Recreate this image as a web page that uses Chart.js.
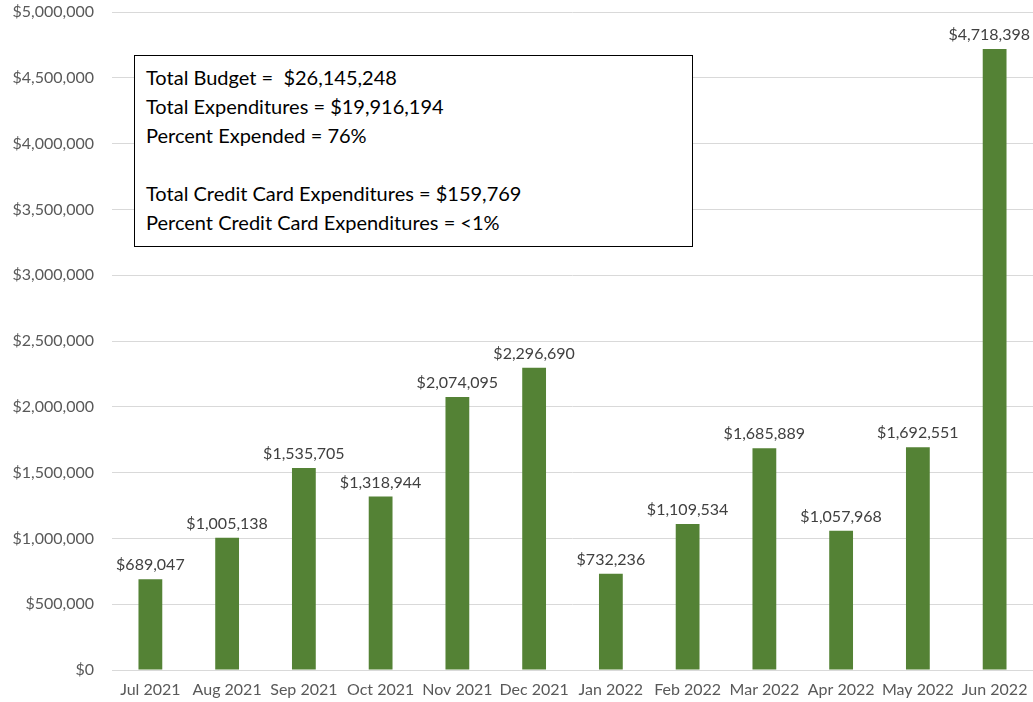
<!DOCTYPE html>
<html>
<head>
<meta charset="utf-8">
<script src="https://cdn.jsdelivr.net/npm/chart.js@4/dist/chart.umd.min.js"></script>
<style>
html,body{margin:0;padding:0;background:#fff;overflow:hidden;}
#wrap{position:relative;width:1033px;height:702px;}
#info{position:absolute;left:134px;top:55px;width:559px;height:192px;border:1.5px solid #000;background:#fff;
font-family:Lato,"Open Sans",sans-serif;font-size:20px;color:#000;box-sizing:border-box;padding:7px 0 0 11px;line-height:29px;}
</style>
</head>
<body>
<div id="wrap">
<canvas id="c" width="1033" height="702"></canvas>
<div id="info">Total Budget =&nbsp; $26,145,248<br>Total Expenditures = $19,916,194<br>Percent Expended = 76%<br><br>Total Credit Card Expenditures = $159,769<br>Percent Credit Card Expenditures = &lt;1%</div>
</div>
<script>
const months = ["Jul 2021","Aug 2021","Sep 2021","Oct 2021","Nov 2021","Dec 2021","Jan 2022","Feb 2022","Mar 2022","Apr 2022","May 2022","Jun 2022"];
const expenditures = [689047,1005138,1535705,1318944,2074095,2296690,732236,1109534,1685889,1057968,1692551,4718398];
const yMax = 5000000;
const yStep = 500000;

const fmt = v => "$" + v.toLocaleString("en-US");
const FONT = "Lato, 'Open Sans', sans-serif";

const labelPlugin = {
  id: "barLabels",
  afterDatasetsDraw(chart) {
    const ctx = chart.ctx;
    const meta = chart.getDatasetMeta(0);
    ctx.save();
    ctx.font = "16px " + FONT;
    ctx.fillStyle = "#404040";
    ctx.textAlign = "center";
    ctx.textBaseline = "bottom";
    meta.data.forEach((bar, i) => {
      const txt = fmt(expenditures[i]);
      const w = ctx.measureText(txt).width;
      let x = bar.x;
      const maxRight = chart.width - 3;
      if (x + w / 2 > maxRight) x = maxRight - w / 2;
      ctx.fillText(txt, x, bar.y - 6);
    });
    ctx.restore();
  }
};

new Chart(document.getElementById("c"), {
  type: "bar",
  data: {
    labels: months,
    datasets: [{
      data: expenditures,
      backgroundColor: "#548235",
      borderWidth: 0,
      barPercentage: 0.31,
      categoryPercentage: 1.0
    }]
  },
  options: {
    responsive: false,
    animation: false,
    layout: { padding: { top: 0, right: 0, left: 0, bottom: 0 } },
    plugins: { legend: { display: false }, tooltip: { enabled: false } },
    scales: {
      x: {
        afterFit(scale) { scale.paddingLeft = 0; scale.paddingRight = 0; scale.height = 32; },
        grid: { display: false, drawTicks: false },
        border: { color: "#d9d9d9", width: 1 },
        ticks: { color: "#595959", font: { family: FONT, size: 16 }, padding: 10, maxRotation: 0 }
      },
      y: {
        min: 0, max: yMax,
        afterFit(scale) { scale.width = 112; scale.paddingTop = 12; scale.paddingBottom = 0; },
        grid: { color: "#d9d9d9", drawTicks: false },
        border: { display: false },
        ticks: { stepSize: yStep, color: "#595959", font: { family: FONT, size: 16 }, padding: 18,
          callback: v => fmt(v) }
      }
    }
  },
  plugins: [labelPlugin]
});
</script>
</body>
</html>
